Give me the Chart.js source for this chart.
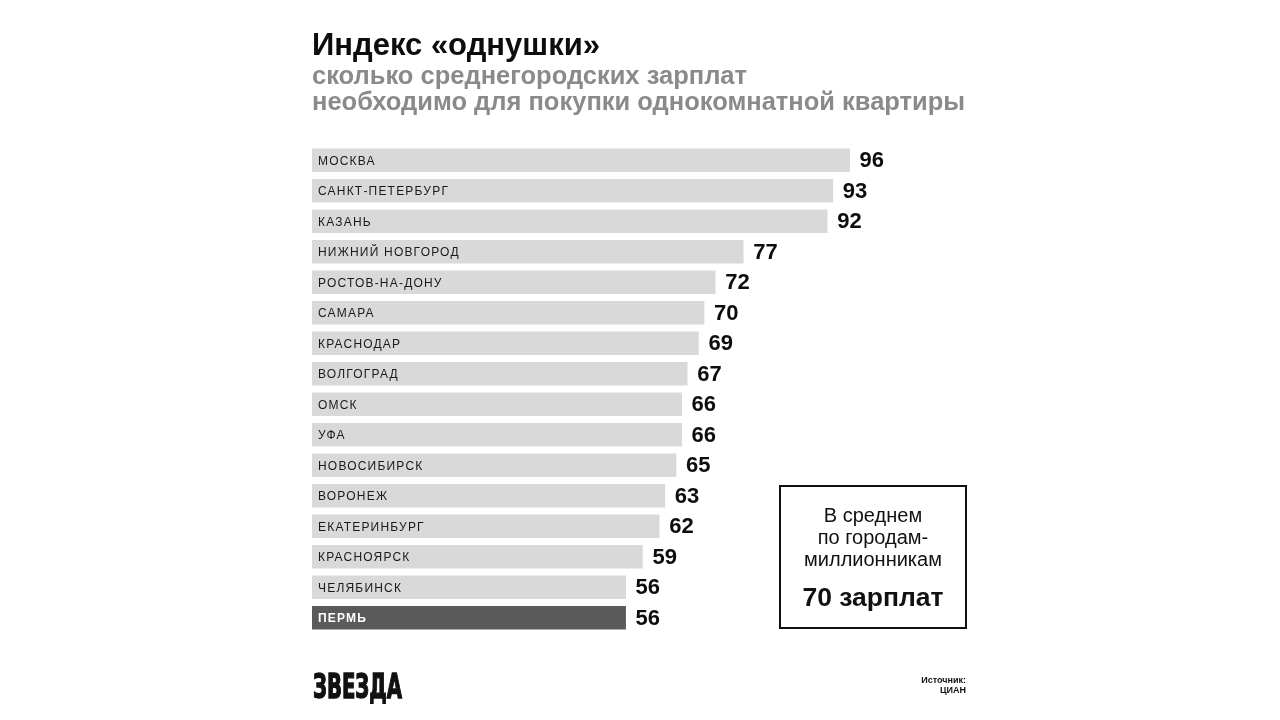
<!DOCTYPE html>
<html><head><meta charset="utf-8">
<script src="https://cdn.jsdelivr.net/npm/chart.js@4/dist/chart.umd.min.js"></script>
<style>
html,body{margin:0;padding:0;background:#fff;}
#wrap{position:relative;width:1280px;height:720px;overflow:hidden;font-family:"Liberation Sans",Arial,sans-serif;}
canvas{position:absolute;left:0;top:0;}
.t{position:absolute;white-space:nowrap;}
#title{left:312px;top:28px;font-size:31px;font-weight:bold;color:#0d0d0d;line-height:34px;}
#sub{left:312px;top:62px;font-size:25.5px;font-weight:bold;color:#8a8a8a;line-height:26px;}
#box{position:absolute;left:779px;top:485px;width:184px;height:140px;border:2px solid #111;text-align:center;color:#111;}
#box .r{font-size:20px;line-height:22px;margin-top:17px;}
#box .b{font-size:26.5px;font-weight:bold;margin-top:12px;line-height:30px;}
#logo{left:313px;top:668px;font-family:"DejaVu Sans Condensed","DejaVu Sans",sans-serif;font-weight:bold;font-size:34px;line-height:36px;color:#111;-webkit-text-stroke:1.3px #111;transform-origin:0 0;}
#src{right:314px;top:675px;font-size:9px;font-weight:bold;line-height:10px;text-align:right;color:#111;}
</style></head>
<body><div id="wrap">
<canvas id="c" width="1280" height="720"></canvas>
<div class="t" id="title">Индекс «однушки»</div>
<div class="t" id="sub">сколько среднегородских зарплат<br>необходимо для покупки однокомнатной квартиры</div>
<div id="box"><div class="r">В среднем<br>по городам-<br>миллионникам</div><div class="b">70 зарплат</div></div>
<div class="t" id="logo">ЗВЕЗДА</div>
<div class="t" id="src">Источник:<br>ЦИАН</div>
</div>
<script>
const cities = ['МОСКВА','САНКТ-ПЕТЕРБУРГ','КАЗАНЬ','НИЖНИЙ НОВГОРОД','РОСТОВ-НА-ДОНУ','САМАРА','КРАСНОДАР','ВОЛГОГРАД','ОМСК','УФА','НОВОСИБИРСК','ВОРОНЕЖ','ЕКАТЕРИНБУРГ','КРАСНОЯРСК','ЧЕЛЯБИНСК','ПЕРМЬ'];
const values = [96,93,92,77,72,70,69,67,66,66,65,63,62,59,56,56];
const highlightCity = 'ПЕРМЬ';
const barColor = '#d9d9d9';
const highlightColor = '#5a5a5a';

// fit logo width
(function(){
  const el = document.getElementById('logo');
  const w = el.getBoundingClientRect().width;
  el.style.transform = 'scaleX(' + (89 / w) + ')';
})();

const labelPlugin = {
  id:'labels',
  afterDatasetsDraw(chart){
    const ctx = chart.ctx;
    const meta = chart.getDatasetMeta(0);
    meta.data.forEach((bar,i)=>{
      const hl = cities[i]===highlightCity;
      ctx.save();
      ctx.textBaseline='middle';
      ctx.textAlign='left';
      ctx.font = (hl?'bold ':'') + '12px "Liberation Sans", Arial, sans-serif';
      ctx.letterSpacing = '1.2px';
      ctx.fillStyle = hl ? '#ffffff' : '#1a1a1a';
      ctx.fillText(cities[i], bar.base + 6, bar.y + 1);
      ctx.letterSpacing = '0px';
      ctx.font = 'bold 22px "Liberation Sans", Arial, sans-serif';
      ctx.fillStyle = '#0d0d0d';
      ctx.fillText(String(values[i]), bar.x + 10, bar.y + 1);
      ctx.restore();
    });
  }
};

new Chart(document.getElementById('c'), {
  type:'bar',
  data:{labels:cities, datasets:[{data:values, backgroundColor:cities.map(c=>c===highlightCity?highlightColor:barColor), barThickness:23, borderWidth:0}]},
  options:{
    indexAxis:'y', responsive:false, animation:false,
    layout:{padding:{left:312,right:296,top:145,bottom:87}},
    plugins:{legend:{display:false},tooltip:{enabled:false},title:{display:false}},
    scales:{x:{display:false,min:0,max:120},y:{display:false}}
  },
  plugins:[labelPlugin]
});
</script>
</body></html>
